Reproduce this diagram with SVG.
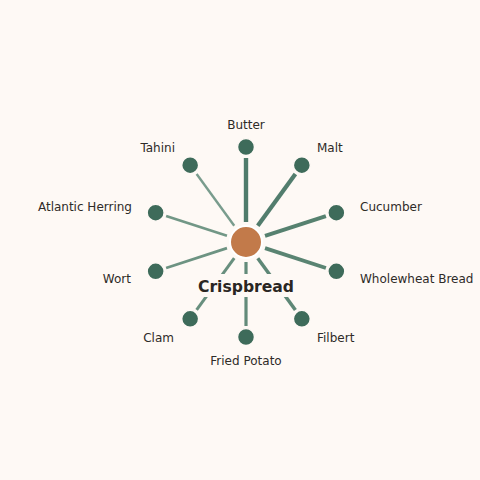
<svg xmlns="http://www.w3.org/2000/svg" width="480" height="480" viewBox="0 0 480 480">
<style>
.bg{fill:#FEF9F5}
.leaf circle{fill:#3E6B5A;stroke:#FEF9F5;stroke-width:1.5}
.lbl{font-family:"DejaVu Sans",sans-serif;font-size:12px;fill:#2E2B28}
.edge{stroke-linecap:butt;fill:none}
</style>
<rect class="bg" x="0" y="0" width="480" height="480"/>
<g id="connectors">
<line class="edge" x1="246" y1="222" x2="246" y2="158" stroke="#4F7B6B" stroke-width="4.4"/>
<line class="edge" x1="257.76" y1="225.82" x2="295.38" y2="174.04" stroke="#527D6D" stroke-width="4.2"/>
<line class="edge" x1="265.02" y1="235.82" x2="325.89" y2="216.04" stroke="#56816F" stroke-width="4"/>
<line class="edge" x1="265.02" y1="248.18" x2="325.89" y2="267.96" stroke="#5A8472" stroke-width="3.8"/>
<line class="edge" x1="257.76" y1="258.18" x2="295.38" y2="309.96" stroke="#5E8776" stroke-width="3.5"/>
<line class="edge" x1="246" y1="262" x2="246" y2="326" stroke="#638B7A" stroke-width="3.2"/>
<line class="edge" x1="234.24" y1="258.18" x2="196.62" y2="309.96" stroke="#688F7E" stroke-width="3"/>
<line class="edge" x1="226.98" y1="248.18" x2="166.11" y2="267.96" stroke="#6D9382" stroke-width="2.8"/>
<line class="edge" x1="226.98" y1="235.82" x2="166.11" y2="216.04" stroke="#729786" stroke-width="2.6"/>
<line class="edge" x1="234.24" y1="225.82" x2="196.62" y2="174.04" stroke="#799C8D" stroke-width="2.4"/>
</g>
<g id="center">
<circle cx="246" cy="242" r="16" fill="#C27A4A" stroke="#FFFFFF" stroke-width="2"/>
<rect class="bg" x="194" y="274" width="104" height="23" rx="3"/>
<text x="246" y="291.5" text-anchor="middle" font-family="'DejaVu Sans',sans-serif" font-size="15.6" font-weight="bold" fill="#2A2623">Crispbread</text>
</g>
<g id="n-butter" class="leaf"><circle cx="246" cy="147" r="8.5"/><text class="lbl" x="246" y="128.5" text-anchor="middle">Butter</text></g>
<g id="n-malt" class="leaf"><circle cx="301.84" cy="165.14" r="8.5"/><text class="lbl" x="317" y="151.5">Malt</text></g>
<g id="n-cucumber" class="leaf"><circle cx="336.35" cy="212.64" r="8.5"/><text class="lbl" x="360" y="210.5">Cucumber</text></g>
<g id="n-wholewheat" class="leaf"><circle cx="336.35" cy="271.36" r="8.5"/><text class="lbl" x="360" y="282.5">Wholewheat Bread</text></g>
<g id="n-filbert" class="leaf"><circle cx="301.84" cy="318.86" r="8.5"/><text class="lbl" x="317" y="341.5">Filbert</text></g>
<g id="n-fried-potato" class="leaf"><circle cx="246" cy="337" r="8.5"/><text class="lbl" x="246" y="364.5" text-anchor="middle">Fried Potato</text></g>
<g id="n-clam" class="leaf"><circle cx="190.16" cy="318.86" r="8.5"/><text class="lbl" x="174" y="341.5" text-anchor="end">Clam</text></g>
<g id="n-wort" class="leaf"><circle cx="155.65" cy="271.36" r="8.5"/><text class="lbl" x="131" y="282.5" text-anchor="end">Wort</text></g>
<g id="n-atlantic-herring" class="leaf"><circle cx="155.65" cy="212.64" r="8.5"/><text class="lbl" x="132" y="210.5" text-anchor="end">Atlantic Herring</text></g>
<g id="n-tahini" class="leaf"><circle cx="190.16" cy="165.14" r="8.5"/><text class="lbl" x="175" y="151.5" text-anchor="end">Tahini</text></g>
</svg>
